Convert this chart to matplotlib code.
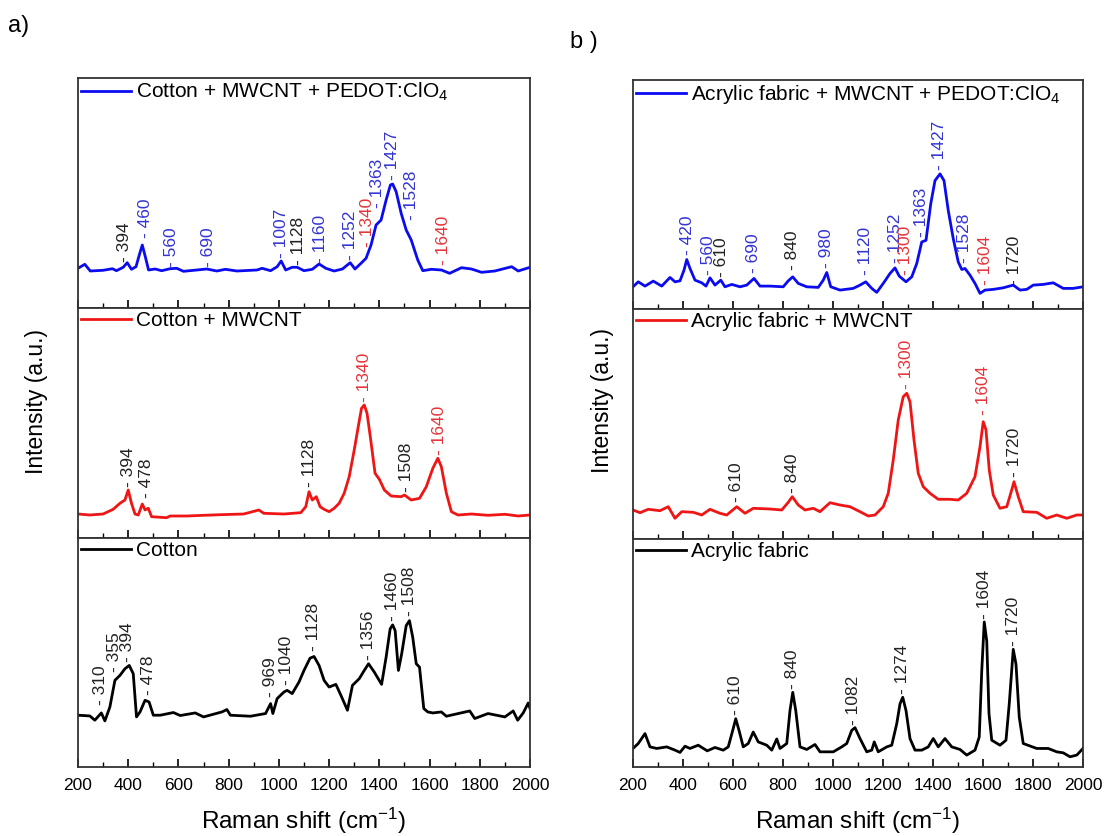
import matplotlib
matplotlib.use("Agg")
import matplotlib.pyplot as plt
from matplotlib.ticker import MultipleLocator

plt.rcParams['font.family'] = ['Liberation Sans', 'DejaVu Sans']
plt.rcParams['mathtext.fontset'] = 'custom'
plt.rcParams['mathtext.rm'] = 'Liberation Sans'
plt.rcParams['mathtext.it'] = 'Liberation Sans:italic'

# ---------------- data (intensity in a.u.) ----------------
# a) cotton
cotton_pedot_x = [200, 227, 249, 300, 337, 353, 380, 396, 413, 431, 444, 456, 468, 481, 507, 533,
                  567, 593, 620, 673, 713, 753, 787, 833, 913, 933, 967, 993, 1009, 1027, 1053,
                  1073, 1100, 1133, 1160, 1187, 1220, 1253, 1284, 1303, 1327, 1347, 1367, 1387,
                  1407, 1427, 1444, 1453, 1467, 1487, 1507, 1527, 1553, 1573, 1607, 1647, 1680,
                  1727, 1767, 1807, 1860, 1927, 1953, 2000]
cotton_pedot_y = [39.7, 43.7, 37, 37.7, 39.3, 37.3, 40.7, 45.3, 38.7, 41.3, 53, 63, 51.3, 38, 39,
                  37.3, 39.3, 39.7, 36.7, 38, 39, 37, 38.7, 37, 38, 39.7, 37.3, 41.3, 47, 38,
                  40.7, 40.7, 37.3, 38.7, 44, 39.7, 37, 39, 45.3, 39, 44.7, 49.7, 63, 83, 88,
                  108, 123, 124, 116.3, 94.7, 78, 68, 48, 37.3, 38.7, 38, 34.7, 40.3, 39, 35.7,
                  37, 41.3, 37, 40.7]

cotton_cnt_x = [200, 247, 300, 340, 367, 387, 400, 413, 427, 440, 456, 467, 480, 493, 553, 567,
                633, 700, 767, 860, 920, 940, 1020, 1087, 1107, 1120, 1133, 1149, 1164, 1180,
                1200, 1220, 1240, 1260, 1280, 1300, 1316, 1329, 1340, 1351, 1364, 1383, 1400,
                1420, 1447, 1487, 1500, 1527, 1560, 1587, 1613, 1633, 1647, 1667, 1687, 1713,
                1767, 1833, 1900, 1953, 2000]
cotton_cnt_y = [24, 23, 24, 28.7, 34.7, 38, 48, 34.7, 24, 23, 34, 28, 29.7, 21.3, 20.3, 22,
                22, 22.7, 23.3, 24, 28, 24.7, 24, 25.3, 31.3, 46.3, 38, 41.3, 31.3, 28.7,
                26.3, 29.7, 34.7, 44.7, 61.3, 88, 111.3, 129.7, 133, 124.7, 101.3, 64.7, 58.7,
                48, 42, 41.3, 43, 38, 39.7, 51.3, 69.7, 79.7, 71.3, 44.7, 26.3, 23,
                24, 22.7, 23.7, 22, 23]

cotton_x = [200, 247, 267, 293, 307, 327, 347, 367, 387, 404, 420, 433, 447, 467, 483, 500,
            527, 580, 607, 667, 700, 773, 793, 807, 887, 947, 967, 976, 993, 1020, 1033, 1053,
            1080, 1100, 1124, 1140, 1160, 1180, 1200, 1227, 1247, 1273, 1293, 1320, 1340, 1357,
            1380, 1409, 1427, 1443, 1453, 1463, 1476, 1489, 1507, 1520, 1533, 1547, 1560, 1577,
            1593, 1613, 1647, 1667, 1760, 1780, 1833, 1900, 1933, 1951, 1973, 1993, 2000]
cotton_y = [52, 51.3, 47, 54.3, 46.3, 60.3, 87, 92, 98.7, 102, 93.7, 50.3, 55.3, 67, 65.3, 52,
            52, 54.7, 51.7, 54.3, 50.3, 55.3, 57.7, 52, 51, 53.7, 63.7, 53.7, 68.7, 75.3, 77, 73.7,
            85.3, 97, 109.3, 111, 102, 87, 80.3, 83, 72, 57, 82, 88.7, 97, 103.7,
            95.3, 83, 110.3, 138.7, 142.7, 137, 97, 113.7, 142, 147, 130.3, 103.7, 100.3, 58.7,
            55.3, 54.3, 55.3, 51, 56.3, 48.7, 53.7, 50.3, 56.3, 47, 54.3, 64.3, 58.7]

# b) acrylic fabric
acrylic_pedot_x = [200, 221, 248, 281, 315, 348, 368, 388, 404, 415, 428, 448, 475, 492, 508, 528,
                   551, 568, 595, 628, 655, 684, 708, 748, 801, 821, 839, 861, 895, 941, 961, 975,
                   991, 1028, 1081, 1108, 1131, 1155, 1175, 1201, 1228, 1248, 1265, 1292, 1315,
                   1335, 1355, 1372, 1391, 1408, 1428, 1444, 1461, 1481, 1501, 1515, 1528, 1548,
                   1568, 1588, 1608, 1641, 1681, 1721, 1748, 1775, 1801, 1841, 1881, 1921, 1961, 2000]
acrylic_pedot_y = [22.3, 27.3, 23, 28, 23, 31.7, 27.3, 28.3, 39, 49.7, 40.7, 29, 26.3, 23, 31.3, 24,
                   29, 22.3, 24.7, 22.3, 24, 30.7, 23, 23, 22.3, 28.3, 32.3, 25.7, 22.3, 21.7, 29, 36.7,
                   22.3, 19, 20.7, 24, 27.3, 20.7, 16.7, 25.7, 35.7, 41.3, 33, 27.3, 32.3,
                   45.7, 67.3, 69, 105.7, 129, 135.7, 129, 99, 70.7, 47.3, 39.7, 40.7, 34,
                   25.7, 15.7, 19, 19.7, 21.3, 24, 19, 19.7, 24, 24.7, 26.3, 20.7, 20.7, 22.3]

acrylic_cnt_x = [200, 228, 261, 308, 341, 368, 395, 441, 475, 508, 548, 575, 615, 648, 681, 748,
                 795, 821, 837, 861, 888, 921, 948, 988, 1028, 1068, 1108, 1141, 1168, 1201, 1221,
                 1241, 1261, 1281, 1295, 1308, 1324, 1341, 1361, 1388, 1421, 1468, 1501, 1535, 1568,
                 1588, 1601, 1612, 1625, 1641, 1668, 1695, 1711, 1724, 1741, 1761, 1815, 1855,
                 1895, 1935, 1975, 2000]
acrylic_cnt_y = [29, 26.3, 29.7, 28.3, 32.3, 20.7, 27.3, 26.7, 24, 29.7, 25.7, 24, 32.3, 25.7, 30.7, 30,
                 29, 36.7, 42.3, 34, 29, 30.7, 27.3, 36.3, 34, 32.3, 27.3, 23, 24, 32.3, 45.7,
                 79, 119, 142.3, 145.7, 137.3, 99, 65.7, 52.3, 45.7, 39.7, 39.7, 39, 45.7, 62.3,
                 92.3, 117.3, 109, 69, 44, 30.7, 32.3, 45.7, 57.3, 42.3, 27.3, 26.7, 20.7,
                 24, 20.7, 24, 24]

acrylic_x = [200, 221, 248, 268, 295, 335, 368, 388, 408, 428, 461, 497, 528, 561, 581, 599,
             611, 624, 641, 661, 681, 701, 735, 755, 775, 788, 815, 828, 839, 851, 868, 895,
             928, 948, 1001, 1035, 1055, 1075, 1088, 1108, 1135, 1155, 1165, 1181, 1215, 1235,
             1255, 1268, 1279, 1292, 1308, 1328, 1355, 1381, 1401, 1421, 1448, 1475, 1508, 1535,
             1568, 1585, 1595, 1605, 1615, 1624, 1635, 1668, 1692, 1705, 1721, 1732, 1745, 1761,
             1815, 1861, 1895, 1921, 1948, 1975, 2000]
acrylic_y = [18.7, 23.7, 33.7, 20.3, 18.7, 20.3, 17, 14.7, 21, 18.7, 22, 16.3, 19.7, 17, 20.3, 37,
             48.7, 37, 20.3, 23.7, 35.3, 25.3, 22, 17, 28.3, 18.7, 23.7, 57, 75.3, 57, 20.3, 17.7,
             22.7, 15.3, 15.3, 20.3, 23.7, 37, 39.7, 28.7, 15.3, 17, 25.3, 15.3, 20.3, 22,
             43.7, 63.7, 70.3, 57, 28.7, 17, 17, 20.3, 28.7, 20.3, 28.7, 20.3, 17.7, 12,
             17, 30.3, 97, 146.3, 127, 53.7, 27, 22, 27, 63.7, 118.7, 103.7, 50.3, 23.7,
             18.7, 18.7, 15.3, 14.3, 10.3, 12, 18.7]

# peak labels: position, height, text, assigned component
cotton_pedot_peaks = [(387, 46, '394', 'fabric'), (467, 70, '460', 'pedot'), (573, 41, '560', 'pedot'),
                      (720, 41, '690', 'pedot'), (1009, 50, '1007', 'pedot'), (1077, 43, '1128', 'fabric'),
                      (1164, 45, '1160', 'pedot'), (1284, 48, '1252', 'pedot'), (1351, 61, '1340', 'cnt'),
                      (1393, 100, '1363', 'pedot'), (1453, 128, '1427', 'pedot'), (1529, 88, '1528', 'pedot'),
                      (1657, 43, '1640', 'cnt')]
cotton_cnt_peaks = [(400, 51, '394', 'fabric'), (471, 40, '478', 'fabric'), (1120, 51, '1128', 'fabric'),
                    (1340, 136, '1340', 'cnt'), (1507, 46, '1508', 'fabric'), (1640, 83, '1640', 'cnt')]
cotton_peaks = [(289, 62, '310', 'fabric'), (347, 95, '355', 'fabric'), (397, 105, '394', 'fabric'),
                (480, 72, '478', 'fabric'), (967, 70, '969', 'fabric'), (1031, 82, '1040', 'fabric'),
                (1137, 117, '1128', 'fabric'), (1357, 107, '1356', 'fabric'), (1453, 147, '1460', 'fabric'),
                (1520, 152, '1508', 'fabric')]
acrylic_pedot_peaks = [(419, 54, '420', 'pedot'), (501, 34, '560', 'pedot'), (555, 32, '610', 'fabric'),
                       (684, 36, '690', 'pedot'), (837, 39, '840', 'fabric'), (975, 41, '980', 'pedot'),
                       (1131, 34, '1120', 'pedot'), (1248, 46, '1252', 'pedot'), (1288, 34, '1300', 'cnt'),
                       (1355, 72, '1363', 'pedot'), (1428, 140, '1427', 'pedot'), (1525, 46, '1528', 'pedot'),
                       (1612, 24, '1604', 'cnt'), (1725, 24, '1720', 'fabric')]
acrylic_cnt_peaks = [(615, 37, '610', 'fabric'), (837, 46, '840', 'fabric'), (1295, 150, '1300', 'cnt'),
                     (1601, 124, '1604', 'cnt'), (1725, 62, '1720', 'fabric')]
acrylic_peaks = [(611, 52, '610', 'fabric'), (837, 79, '840', 'fabric'), (1081, 42, '1082', 'fabric'),
                 (1279, 74, '1274', 'fabric'), (1605, 149, '1604', 'fabric'), (1724, 122, '1720', 'fabric')]

label_colors = {'pedot': '#3434d4', 'cnt': '#e5343a', 'fabric': '#222222'}

# ---------------- layout (pixel boxes of the six axes) ----------------
W, H = 1105, 836
fig = plt.figure(figsize=(W / 100, H / 100), dpi=100)


def box(x0, x1, y0, y1):
    return [x0 / W, 1 - y1 / H, (x1 - x0) / W, (y1 - y0) / H]


panels = [
    (box(78, 530, 78, 308), cotton_pedot_x, cotton_pedot_y, '#0b0bf0', r'Cotton + MWCNT + PEDOT:ClO$_4$', cotton_pedot_peaks),
    (box(78, 530, 308, 538), cotton_cnt_x, cotton_cnt_y, '#f01515', 'Cotton + MWCNT', cotton_cnt_peaks),
    (box(78, 530, 538, 767), cotton_x, cotton_y, '#000000', 'Cotton', cotton_peaks),
    (box(633, 1083, 80, 309), acrylic_pedot_x, acrylic_pedot_y, '#0b0bf0', r'Acrylic fabric + MWCNT + PEDOT:ClO$_4$', acrylic_pedot_peaks),
    (box(633, 1083, 309, 539), acrylic_cnt_x, acrylic_cnt_y, '#f01515', 'Acrylic fabric + MWCNT', acrylic_cnt_peaks),
    (box(633, 1083, 539, 767), acrylic_x, acrylic_y, '#000000', 'Acrylic fabric', acrylic_peaks),
]

for i, (pos, xs, ys, col, name, peaks) in enumerate(panels):
    ax = fig.add_axes(pos)
    ax.plot(xs, ys, color=col, lw=2.0, label=name)
    for px, py, txt, comp in peaks:
        ax.text(px, py, '- ' + txt, rotation=90, ha='center', va='bottom',
                fontsize=12.5, color=label_colors[comp])
    ax.set_xlim(200, 2000)
    ax.set_ylim(0, 230)
    ax.set_yticks([])
    ax.xaxis.set_major_locator(MultipleLocator(200))
    ax.xaxis.set_minor_locator(MultipleLocator(100))
    ax.tick_params(axis='x', which='major', direction='in', length=6, width=1.2, labelsize=12.5, pad=8)
    ax.tick_params(axis='x', which='minor', direction='in', length=3.5, width=1.0)
    for sp in ax.spines.values():
        sp.set_linewidth(1.3)
        sp.set_color('#333333')
    if i % 3 != 2:
        ax.tick_params(axis='x', labelbottom=False)
    else:
        ax.set_xlabel('Raman shift (cm$^{-1}$)', fontsize=17.5, labelpad=9)
    ax.legend(loc='upper left', bbox_to_anchor=(0, 1.0), frameon=False, fontsize=15,
              handlelength=2.4, handletextpad=0.25, borderaxespad=0.0, borderpad=0.15)

fig.text(36 / W, 1 - 401 / H, 'Intensity (a.u.)', rotation=90, ha='center', va='center', fontsize=16.5)
fig.text(603 / W, 1 - 400 / H, 'Intensity (a.u.)', rotation=90, ha='center', va='center', fontsize=16.5)
fig.text(8 / W, 1 - 26 / H, 'a)', ha='left', va='center', fontsize=17)
fig.text(570 / W, 1 - 42 / H, 'b )', ha='left', va='center', fontsize=17)

plt.savefig('out.png', dpi=100)
